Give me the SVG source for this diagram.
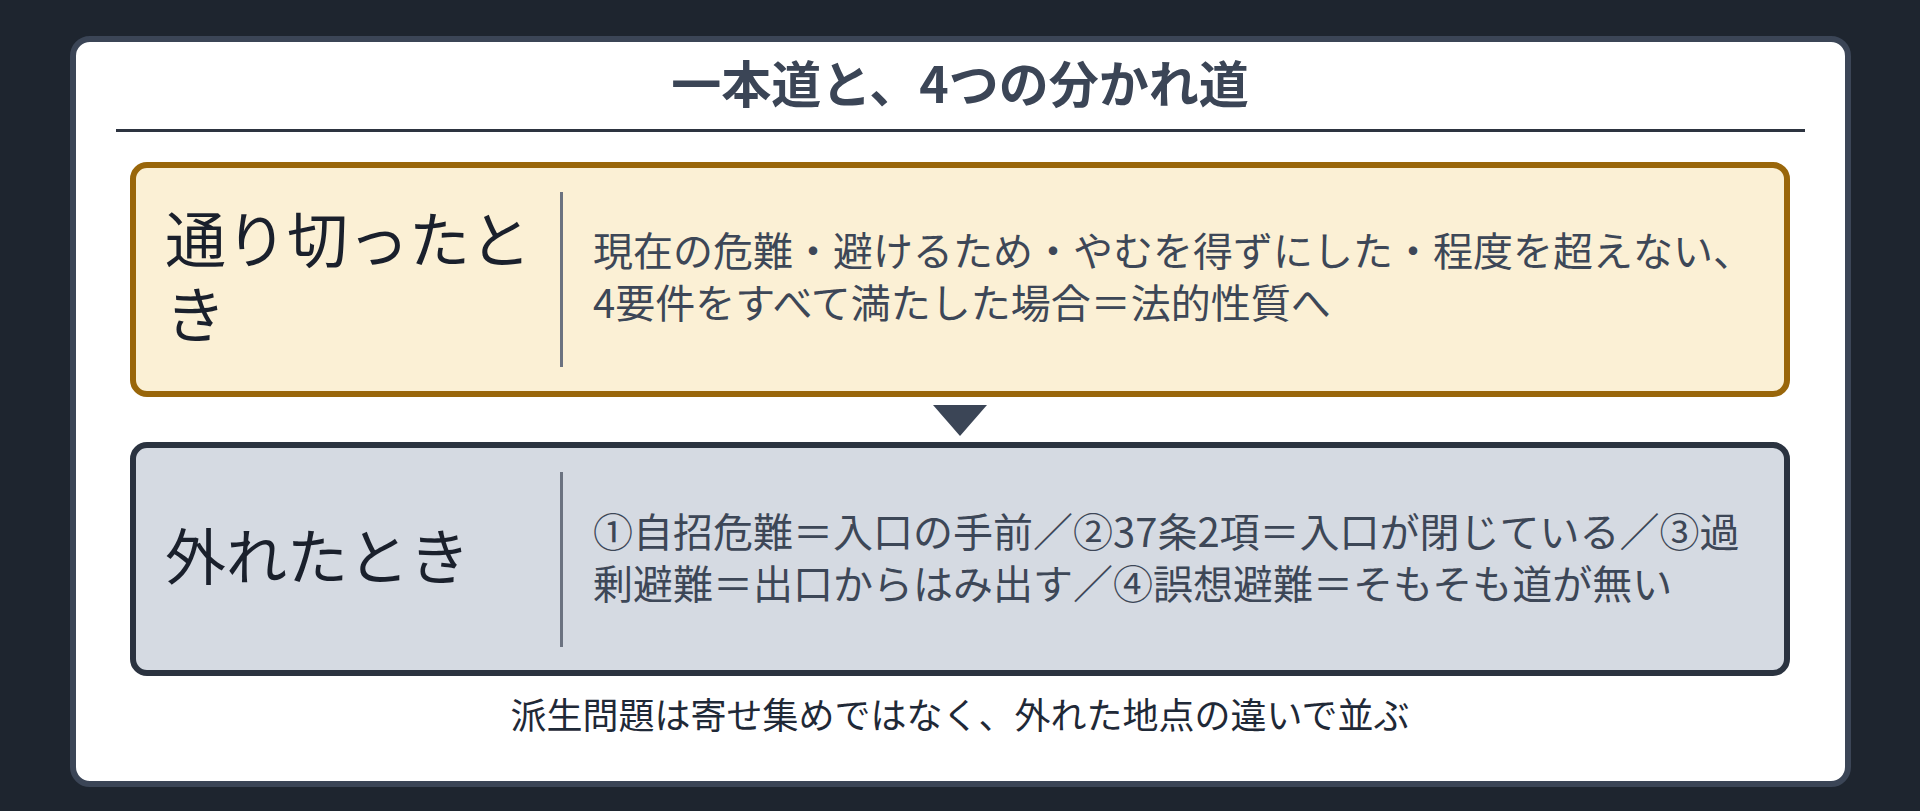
<svg xmlns="http://www.w3.org/2000/svg" width="1920" height="811" viewBox="0 0 1920 811">
  <style>
    text { font-family: "Noto Sans CJK JP", "Noto Sans", sans-serif; }
    .title { font-size: 50px; font-weight: 700; fill: #3b4556; }
    .label { font-size: 61px; fill: #1a202c; }
    .body { font-size: 40px; fill: #3d4757; }
    .foot { font-size: 36px; fill: #1f2937; }
    .divider { stroke: #6b7280; stroke-width: 3; }
  </style>
  <rect x="0" y="0" width="1920" height="811" fill="#1e252f"/>
  <g id="card">
    <rect x="73" y="39" width="1775" height="745" rx="17" ry="17" fill="#ffffff" stroke="#3b4556" stroke-width="6"/>
  </g>
  <g id="title">
    <text class="title" x="960" y="103" text-anchor="middle">一本道と、4つの分かれ道</text>
    <line x1="116" y1="130.5" x2="1805" y2="130.5" stroke="#2d3440" stroke-width="3"/>
  </g>
  <g id="node-pass">
    <rect x="133" y="165" width="1654" height="229" rx="14" ry="14" fill="#fbf0d5" stroke="#99660a" stroke-width="6"/>
    <text class="label" x="165" y="263"><tspan x="165" y="263">通り切ったと</tspan><tspan x="165" y="338">き</tspan></text>
    <line class="divider" x1="561.5" y1="192" x2="561.5" y2="367"/>
    <text class="body" x="593" y="266"><tspan x="593" y="266">現在の危難・避けるため・やむを得ずにした・程度を超えない、</tspan><tspan x="593" y="318">4要件をすべて満たした場合＝法的性質へ</tspan></text>
  </g>
  <g id="connectors">
    <polygon points="933,405 987,405 960,436" fill="#3b4556"/>
  </g>
  <g id="node-fail">
    <rect x="133" y="445" width="1654" height="228" rx="14" ry="14" fill="#d5dae2" stroke="#2b3340" stroke-width="6"/>
    <text class="label" x="165" y="580">外れたとき</text>
    <line class="divider" x1="561.5" y1="472" x2="561.5" y2="647"/>
    <text class="body" x="593" y="547"><tspan x="593" y="547">①自招危難＝入口の手前／②37条2項＝入口が閉じている／③過</tspan><tspan x="593" y="599">剰避難＝出口からはみ出す／④誤想避難＝そもそも道が無い</tspan></text>
  </g>
  <g id="footer">
    <text class="foot" x="960" y="729" text-anchor="middle">派生問題は寄せ集めではなく、外れた地点の違いで並ぶ</text>
  </g>
</svg>
